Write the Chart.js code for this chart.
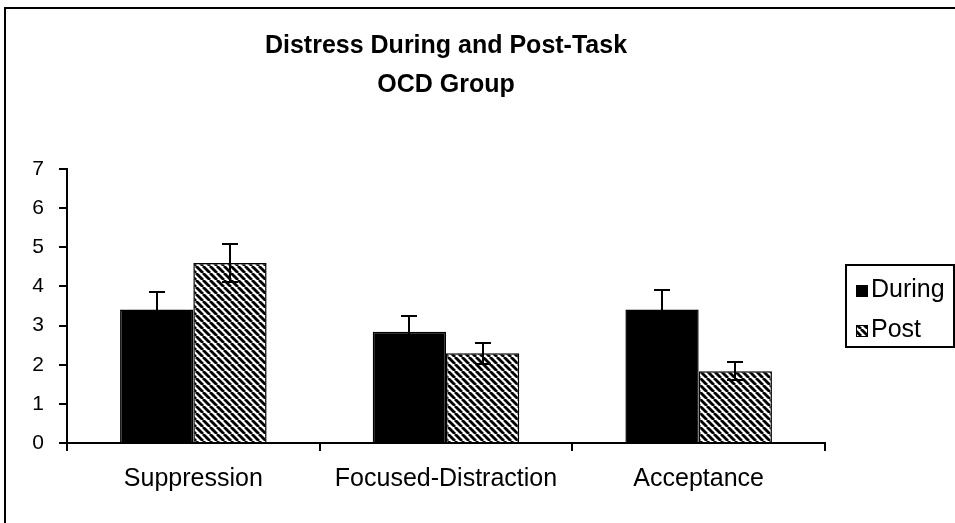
<!DOCTYPE html>
<html>
<head>
<meta charset="utf-8">
<title>Distress During and Post-Task</title>
<script src="https://cdn.jsdelivr.net/npm/chart.js@4/dist/chart.umd.min.js"></script>
<style>
  body { margin: 0; background: #fff; }
  canvas { display: block; }
</style>
</head>
<body>
<canvas id="distressChart" width="955" height="523"></canvas>
<script>
// values
var categories = ['Suppression', 'Focused-Distraction', 'Acceptance'];
var seriesNames = ['During', 'Post'];
var duringValues = [3.41, 2.84, 3.41];
var duringErrors = [0.45, 0.41, 0.50];
var postValues = [4.6, 2.29, 1.83];
var postErrors = [0.48, 0.27, 0.23];
var yTicks = [0, 1, 2, 3, 4, 5, 6, 7];

var fontFamily = "'Liberation Sans', Arial, sans-serif";

// diagonal black/white hatching for the Post bars
function makeHatch() {
    var size = 7;
    var c = document.createElement('canvas');
    c.width = size;
    c.height = size;
    var p = c.getContext('2d');
    p.fillStyle = '#fff';
    p.fillRect(0, 0, size, size);
    p.strokeStyle = '#000';
    p.lineWidth = 2.8;
    for (var k = -size; k <= size; k += size) {
        p.beginPath();
        p.moveTo(k, 0);
        p.lineTo(k + size, size);
        p.stroke();
    }
    return p.createPattern(c, 'repeat');
}
var hatch = makeHatch();

// error bars drawn through the y scale
var errorBars = {
    id: 'errorBars',
    afterDatasetsDraw: function(chart) {
        var c = chart.ctx;
        var y = chart.scales.y;
        c.save();
        c.strokeStyle = '#000';
        c.lineWidth = 2;
        chart.data.datasets.forEach(function(ds, d) {
            var meta = chart.getDatasetMeta(d);
            meta.data.forEach(function(bar, i) {
                var x = Math.round(bar.x);
                var top = Math.round(y.getPixelForValue(ds.data[i] + ds.errors[i]));
                var bot = Math.round(y.getPixelForValue(ds.data[i] - ds.errors[i]));
                c.beginPath();
                c.moveTo(x, top);
                c.lineTo(x, bot);
                c.moveTo(x - 8, top);
                c.lineTo(x + 8, top);
                c.moveTo(x - 8, bot);
                c.lineTo(x + 8, bot);
                c.stroke();
            });
        });
        c.restore();
    }
};

// outer frame and the boxed legend on the right
var frameAndLegend = {
    id: 'frameAndLegend',
    afterDraw: function(chart) {
        var c = chart.ctx;
        c.save();
        c.strokeStyle = '#000';
        c.lineWidth = 2;
        c.strokeRect(5, 8, 980, 560);

        c.strokeRect(846, 265, 108, 82);
        c.font = '25px ' + fontFamily;
        c.textBaseline = 'alphabetic';
        c.textAlign = 'left';
        chart.data.datasets.forEach(function(ds, i) {
            var base = 297 + i * 40;
            c.fillStyle = ds.backgroundColor;
            c.fillRect(856, base - 12, 12, 12);
            c.lineWidth = 1;
            c.strokeRect(856.5, base - 11.5, 11, 11);
            c.fillStyle = '#000';
            c.fillText(ds.label, 871, base);
        });
        c.restore();
    }
};

var ctx = document.getElementById('distressChart').getContext('2d');

var distressChart = new Chart(ctx, {
    type: 'bar',
    data: {
        labels: categories,
        datasets: [{
            label: seriesNames[0],
            data: duringValues,
            errors: duringErrors,
            backgroundColor: '#000',
            borderColor: '#000',
            borderWidth: 1.5
        }, {
            label: seriesNames[1],
            data: postValues,
            errors: postErrors,
            backgroundColor: hatch,
            borderColor: '#000',
            borderWidth: 1.5
        }]
    },
    options: {
        responsive: false,
        animation: false,
        devicePixelRatio: 1,
        categoryPercentage: 0.58,
        barPercentage: 1,
        layout: { padding: { left: 0, right: 130, top: 0, bottom: 0 } },
        plugins: {
            legend: { display: false },
            tooltip: { enabled: false },
            title: {
                display: true,
                fullSize: false,
                text: ['Distress During and Post-Task', 'OCD Group'],
                color: '#000',
                font: { family: fontFamily, size: 25, weight: 'bold', lineHeight: 1.56 },
                padding: { top: 27, bottom: 64 }
            }
        },
        scales: {
            x: {
                grid: { display: true, offset: true, drawOnChartArea: false, tickLength: 8, color: '#000', lineWidth: 2 },
                border: { color: '#000', width: 2 },
                ticks: { color: '#000', padding: 13, font: { family: fontFamily, size: 25 } },
                afterFit: function(scale) { scale.height = 80; }
            },
            y: {
                min: yTicks[0],
                max: yTicks[yTicks.length - 1],
                afterBuildTicks: function(scale) {
                    scale.ticks = yTicks.map(function(v) { return { value: v }; });
                },
                grid: { display: true, drawOnChartArea: false, tickLength: 8, color: '#000', lineWidth: 2 },
                border: { color: '#000', width: 2 },
                ticks: { color: '#000', padding: 15, font: { family: fontFamily, size: 21 } },
                afterFit: function(scale) { scale.width = 67; }
            }
        }
    },
    plugins: [errorBars, frameAndLegend]
});
</script>
</body>
</html>
